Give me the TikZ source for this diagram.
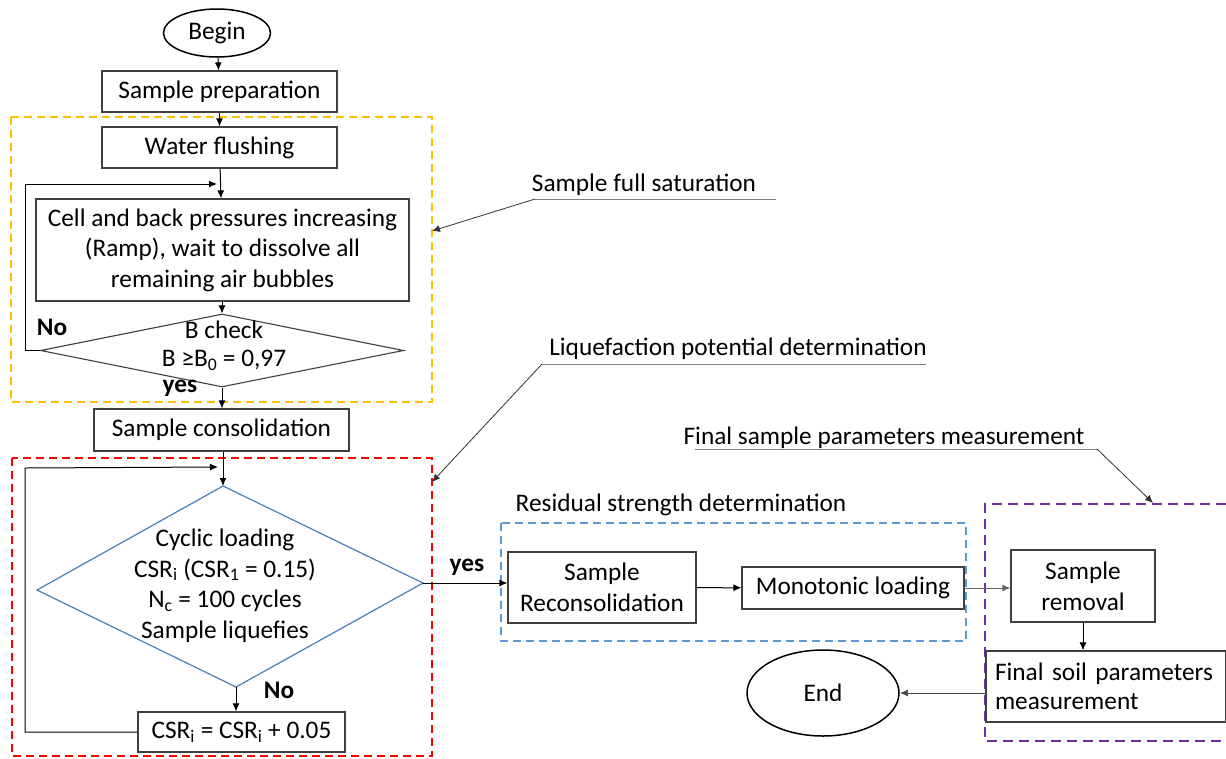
\documentclass[tikz,border=0pt]{standalone}
\usepackage{fontspec}
\setmainfont{Carlito}
\usetikzlibrary{shapes.geometric,arrows.meta}
\definecolor{yellowdash}{HTML}{FFC000}
\definecolor{reddash}{HTML}{FF0000}
\definecolor{bluedash}{HTML}{5B9BD5}
\definecolor{purpledash}{HTML}{7030A0}
\definecolor{diablue}{RGB}{74,126,187}
\definecolor{boxline}{HTML}{404040}
\begin{document}
\begin{tikzpicture}[x=1pt,y=-1pt,
  every node/.style={font=\fontsize{25.3}{30.5}\selectfont, inner sep=0pt},
  box/.style={draw=boxline, line width=1.2pt, align=center},
  ell/.style={draw=black, ellipse, line width=1.5pt},
  dia/.style={draw=boxline, diamond, line width=1.1pt},
  grp/.style={line width=1.8pt, dash pattern=on 8pt off 5pt},
  arr/.style={-{Latex[length=8pt,width=7pt]}, line width=1pt, draw=black},
  leader/.style={-{Latex[length=8pt,width=7pt]}, line width=0.8pt, draw=black!80},
  uline/.style={line width=1pt, draw=black!50},
  lbl/.style={font=\fontsize{25.3}{30.5}\selectfont\bfseries}
]
\useasboundingbox (0,0) rectangle (1226,758);
\fill[white] (0,0) rectangle (1226,758);

% group frames
\draw[grp, yellowdash] (11,117) rectangle (432,402);
\draw[grp, reddash] (12,458) rectangle (432,756);
\draw[grp, bluedash] (501,523) rectangle (966,641);
\draw[grp, purpledash, dash pattern=on 10pt off 6pt] (1226,504) -- (985,504) -- (985,741) -- (1226,741);

% main column
\node[ell, minimum width=107, minimum height=48] (begin) at (217,33) {Begin};
\node[box, minimum width=235, minimum height=41] (prep) at (219.5,91.5) {Sample preparation};
\node[box, minimum width=235, minimum height=41] (flush) at (219.5,147.5) {Water flushing};
\node[box, minimum width=373, minimum height=102] (cell) at (222.5,250) {Cell and back pressures increasing\\(Ramp), wait to dissolve all\\remaining air bubbles};
\node[dia, minimum width=363, minimum height=73] (bchk) at (222,350.5) {};
\node[align=center, font=\fontsize{25.3}{28}\selectfont] (bchktext) at (224,346) {B check\\B ≥B\textsubscript{0} = 0,97};
\node[box, minimum width=255, minimum height=42] (cons) at (221.5,430) {Sample consolidation};

% cyclic loading diamond (slightly skewed, as in the reference)
\coordinate (cT) at (223,486);
\coordinate (cL) at (37,590);
\coordinate (cB) at (236,687);
\coordinate (cR) at (423,583);
\draw[draw=diablue, line width=1.2pt] (cT) -- (cR) -- (cB) -- (cL) -- cycle;
\node[align=center] (cyc) at (225,585.5) {Cyclic loading\\CSR\textsubscript{i} (CSR\textsubscript{1} = 0.15)\\N\textsubscript{c} = 100 cycles\\Sample liquefies};
\node[box, minimum width=207, minimum height=40] (csr) at (241.5,732) {CSR\textsubscript{i} = CSR\textsubscript{i} + 0.05};

% right part
\node[box, minimum width=188, minimum height=71, font=\fontsize{25.3}{31}\selectfont] (recon) at (602,587.5) {Sample\\Reconsolidation};
\node[box, minimum width=222, minimum height=42] (mono) at (853,588) {Monotonic loading};
\node[box, minimum width=144, minimum height=72, font=\fontsize{25.3}{31}\selectfont] (removal) at (1083,586) {Sample\\removal};
\node[box, text width=222, inner xsep=9, minimum height=71, align=left, font=\fontsize{25.3}{29}\selectfont] (final) at (1106,686.5) {Final soil parameters\\measurement};
\node[ell, minimum width=152, minimum height=86] (endn) at (823,693) {End};

% labels
\node[lbl] (no1) at (52,327) {No};
\node[lbl] (yes1) at (180,388) {yes};
\node[lbl] (no2) at (279,690) {No};
\node[lbl] (yes2) at (467,567) {yes};

% connectors
\draw[arr] (begin) -- (prep);
\draw[arr] (prep) -- (flush);
\draw[arr] (flush) -- (cell);
\draw[arr] (cell.south -| bchk.north) -- (bchk.north);
\coordinate (l1) at (217,184);
\draw[arr] (bchk.west) -| (25,184) -- (l1);
\draw[arr] (bchk.south) -- (bchk.south |- cons.north);
\draw[arr] (cons.south -| cT) -- (cT);
\draw[arr] (cB) -- (cB |- csr.north);
\coordinate (l2) at (218,467);
\draw[arr] (csr.west) -| (25,468) -- (l2);
\draw[arr] (cR) -- (cR -| recon.west);
\draw[arr] (recon) -- (mono);
\draw[arr, draw=black!60] (mono.east) -- (mono.east -| removal.west);
\draw[arr] (removal.south) -- (removal.south |- final.north);
\draw[arr, draw=black!70] (final.west |- endn) -- (endn.east);

% annotations
\node (ann1) at (644,185) {Sample full saturation};
\coordinate (a1s) at (535,199);
\coordinate (a1e) at (776,199);
\coordinate (t1) at (432,231);
\draw[uline] (a1s) -- (a1e);
\draw[leader] (a1s) -- (t1);

\node (ann2) at (738,349) {Liquefaction potential determination};
\coordinate (a2s) at (542,364);
\coordinate (a2e) at (926,364);
\coordinate (t2) at (432,482);
\draw[uline] (a2s) -- (a2e);
\draw[leader] (a2s) -- (t2);

\node (ann3) at (884,438) {Final sample parameters measurement};
\coordinate (a3s) at (695,449);
\coordinate (a3e) at (1097,449);
\coordinate (t3) at (1153,503);
\draw[uline] (a3s) -- (a3e);
\draw[leader] (a3e) -- (t3);

\node (ann4) at (681,505) {Residual strength determination};
\end{tikzpicture}
\end{document}
